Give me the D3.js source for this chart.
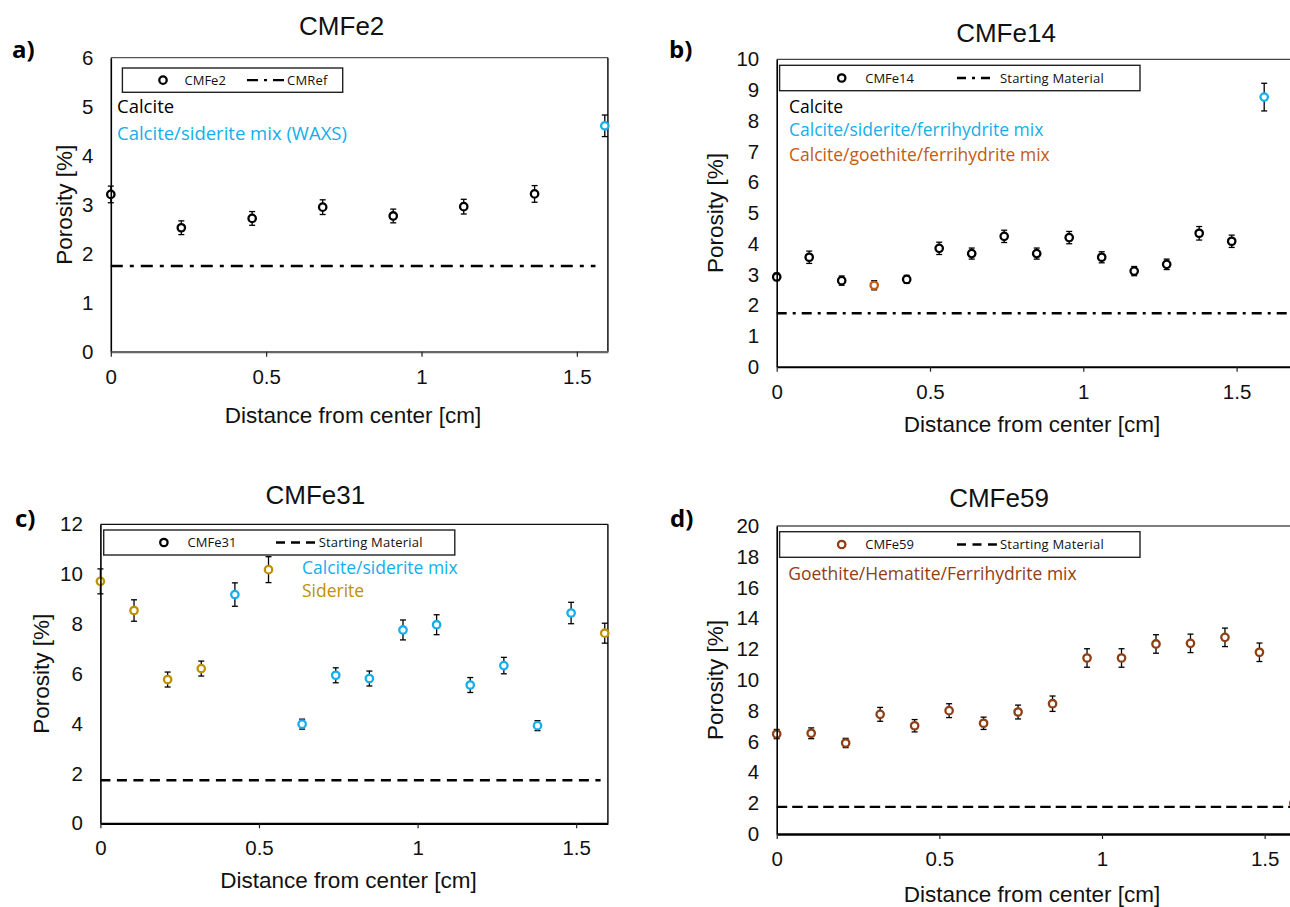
<!DOCTYPE html>
<html><head><meta charset="utf-8">
<script src="https://cdn.jsdelivr.net/npm/d3@7"></script>
<style>html,body{margin:0;padding:0;background:#fff;} svg{display:block;}</style>
</head><body>
<svg id="chart" width="1290" height="907"></svg>
<script>
// ================= DATA =================
const xTicks = [0, 0.5, 1, 1.5];
const xTickLabels = ["0", "0.5", "1", "1.5"];

// Panel a) CMFe2
const aTitle = "CMFe2";
const aYTicks = [0, 1, 2, 3, 4, 5, 6];
const aDist = [0, 0.227, 0.455, 0.682, 0.909, 1.136, 1.364, 1.59];
const aPoro = [3.21, 2.53, 2.72, 2.95, 2.77, 2.96, 3.22, 4.61];
const aErr  = [0.17, 0.14, 0.14, 0.15, 0.14, 0.15, 0.17, 0.22];
const aPhase = ["calcite","calcite","calcite","calcite","calcite","calcite","calcite","sidmix"];
const aRef = 1.75, aRefEnd = 1.56;
const aLegend = ["CMFe2", "CMRef"];
const aPhaseLabels = [["Calcite","calcite"],["Calcite/siderite mix (WAXS)","sidmix"]];

// Panel b) CMFe14
const bTitle = "CMFe14";
const bYTicks = [0,1,2,3,4,5,6,7,8,9,10];
const bDist = [0, 0.106, 0.212, 0.318, 0.424, 0.53, 0.636, 0.742, 0.848, 0.954, 1.06, 1.166, 1.272, 1.378, 1.484, 1.59];
const bPoro = [2.92, 3.56, 2.80, 2.65, 2.84, 3.85, 3.68, 4.24, 3.68, 4.20, 3.56, 3.11, 3.33, 4.34, 4.08, 8.77];
const bErr  = [0.12, 0.2, 0.15, 0.15, 0.13, 0.2, 0.18, 0.2, 0.18, 0.2, 0.18, 0.15, 0.17, 0.22, 0.2, 0.45];
const bPhase = ["calcite","calcite","calcite","goemix","calcite","calcite","calcite","calcite","calcite","calcite","calcite","calcite","calcite","calcite","calcite","sidmix"];
const bRef = 1.74, bRefEnd = 1.8;
const bLegend = ["CMFe14", "Starting Material"];
const bPhaseLabels = [["Calcite","calcite"],["Calcite/siderite/ferrihydrite mix","sidmix"],["Calcite/goethite/ferrihydrite mix","goemix"]];

// Panel c) CMFe31
const cTitle = "CMFe31";
const cYTicks = [0, 2, 4, 6, 8, 10, 12];
const cDist = [0, 0.106, 0.212, 0.318, 0.424, 0.53, 0.636, 0.742, 0.848, 0.954, 1.06, 1.166, 1.272, 1.378, 1.484, 1.59];
const cPoro = [9.71, 8.54, 5.77, 6.21, 9.18, 10.18, 3.98, 5.94, 5.81, 7.76, 7.97, 5.55, 6.33, 3.92, 8.44, 7.63];
const cErr  = [0.5, 0.43, 0.3, 0.3, 0.47, 0.52, 0.2, 0.3, 0.3, 0.4, 0.4, 0.3, 0.33, 0.2, 0.43, 0.4];
const cPhase = ["siderite","siderite","siderite","siderite","sidmix","siderite","sidmix","sidmix","sidmix","sidmix","sidmix","sidmix","sidmix","sidmix","sidmix","siderite"];
const cRef = 1.73, cRefEnd = 1.577;
const cLegend = ["CMFe31", "Starting Material"];
const cPhaseLabels = [["Calcite/siderite mix","sidmix"],["Siderite","siderite"]];

// Panel d) CMFe59
const dTitle = "CMFe59";
const dYTicks = [0, 2, 4, 6, 8, 10, 12, 14, 16, 18, 20];
const dDist = [0, 0.106, 0.212, 0.318, 0.424, 0.53, 0.636, 0.742, 0.848, 0.954, 1.06, 1.166, 1.272, 1.378, 1.484, 1.59];
const dPoro = [6.49, 6.54, 5.91, 7.77, 7.03, 8.01, 7.19, 7.92, 8.46, 11.43, 11.43, 12.34, 12.38, 12.77, 11.8, 2.0];
const dErr  = [0.3, 0.35, 0.3, 0.45, 0.4, 0.45, 0.4, 0.45, 0.5, 0.6, 0.6, 0.6, 0.6, 0.6, 0.6, 0.3];
const dPhase = dDist.map(() => "goehem");
const dRef = 1.76, dRefEnd = 1.8;
const dLegend = ["CMFe59", "Starting Material"];
const dPhaseLabels = [["Goethite/Hematite/Ferrihydrite mix","goehem"]];

const xLabel = "Distance from center [cm]";
const yLabel = "Porosity [%]";

// ================= STYLE =================
const phaseColor = {
  calcite: "#000000",
  sidmix: "#13AEEC",
  goemix: "#C55A11",
  siderite: "#BF9000",
  goehem: "#8E4014"
};
const ARIAL = "'Liberation Sans', Arial, sans-serif";
const CALIBRI = "'Open Sans', 'Noto Sans', sans-serif";

const svg = d3.select("#chart");

function drawPanel(p) {
  const x = d3.scaleLinear().domain(p.xDomain).range(p.xRange);
  const y = d3.scaleLinear().domain(p.yDomain).range(p.yRange);
  const g = svg.append("g");
  const yMax = p.yDomain[1];

  // Frame lines
  g.append("line").attr("x1", x(0)).attr("x2", x(p.xDomain[1])).attr("y1", y(yMax)).attr("y2", y(yMax))
    .attr("stroke", p.topColor).attr("stroke-width", 1.3);
  if (p.rightBorder) {
    g.append("line").attr("x1", x(p.xDomain[1])).attr("x2", x(p.xDomain[1])).attr("y1", y(yMax)).attr("y2", y(0))
      .attr("stroke", "#111").attr("stroke-width", 1.5);
  }

  // Reference line
  const refLine = d3.line().x(d => x(d[0])).y(d => y(d[1]));
  g.append("path").attr("d", refLine([[0, p.ref], [p.refEnd, p.ref]]))
    .attr("stroke", "#000").attr("stroke-width", 2.4).attr("fill", "none")
    .attr("stroke-dasharray", p.dash);

  // Error bars
  const eb = g.append("g");
  p.dist.forEach((d, i) => {
    const v = p.poro[i], e = p.err[i];
    eb.append("line").attr("x1", x(d)).attr("x2", x(d)).attr("y1", y(v - e)).attr("y2", y(v + e))
      .attr("stroke", "#000").attr("stroke-width", 1.3);
    [v - e, v + e].forEach(t => {
      eb.append("line").attr("x1", x(d) - 3).attr("x2", x(d) + 3).attr("y1", y(t)).attr("y2", y(t))
        .attr("stroke", "#000").attr("stroke-width", 1.3);
    });
  });

  // Markers
  g.append("g").selectAll("circle").data(p.dist).join("circle")
    .attr("cx", d => x(d)).attr("cy", (d, i) => y(p.poro[i])).attr("r", 3.7)
    .attr("fill", "#fff").attr("stroke", (d, i) => phaseColor[p.phase[i]]).attr("stroke-width", 2.3);

  // Left axis
  const ya = d3.axisLeft(y).tickValues(p.yTicks).tickFormat(d3.format("d")).tickSize(0).tickPadding(17.5);
  const yg = g.append("g").attr("transform", `translate(${x(0)},0)`).call(ya);
  yg.select(".domain").attr("stroke", "#000").attr("stroke-width", 1.6);
  yg.selectAll("text").attr("font-family", ARIAL).attr("font-size", 20.5).attr("fill", "#111");

  // Bottom axis
  const xa = d3.axisBottom(x).tickValues(xTicks).tickFormat((d, i) => xTickLabels[i]).tickSizeInner(5).tickSizeOuter(0).tickPadding(12.5);
  const xg = g.append("g").attr("transform", `translate(0,${y(0)})`).call(xa);
  xg.select(".domain").attr("stroke", p.bottomColor).attr("stroke-width", p.bottomWidth);
  xg.selectAll(".tick line").attr("stroke", "#222").attr("stroke-width", 1.2);
  xg.selectAll("text").attr("font-family", ARIAL).attr("font-size", 20.5).attr("fill", "#111");

  // Titles
  g.append("text").attr("x", p.titleX).attr("y", p.titleY).attr("text-anchor", "middle")
    .attr("font-family", ARIAL).attr("font-size", 26).attr("fill", "#111").text(p.title);
  g.append("text").attr("x", p.tagX).attr("y", p.tagY)
    .attr("font-family", CALIBRI).attr("font-weight", 700).attr("font-size", 24).attr("fill", "#000").text(p.tag);
  g.append("text").attr("x", p.xlabX).attr("y", p.xlabY).attr("text-anchor", "middle")
    .attr("font-family", ARIAL).attr("font-size", 22.5).attr("fill", "#111").text(xLabel);
  g.append("text").attr("transform", `translate(${p.ylabX},${(p.yRange[0] + p.yRange[1]) / 2}) rotate(-90)`)
    .attr("text-anchor", "middle")
    .attr("font-family", ARIAL).attr("font-size", 22.5).attr("fill", "#111").text(yLabel);

  // Legend
  const L = p.legend;
  const lg = g.append("g");
  lg.append("rect").attr("x", L.x0).attr("y", L.y0).attr("width", L.x1 - L.x0).attr("height", L.y1 - L.y0)
    .attr("fill", "#fff").attr("stroke", "#222").attr("stroke-width", 1.4);
  const cy = (L.y0 + L.y1) / 2;
  lg.append("circle").attr("cx", L.mx).attr("cy", cy).attr("r", 3.7).attr("fill", "#fff")
    .attr("stroke", L.mcolor).attr("stroke-width", 2.3);
  lg.append("text").attr("x", L.t1).attr("y", cy + 4.6).attr("font-family", CALIBRI).attr("font-size", 13)
    .attr("fill", "#111").text(p.legendText[0]);
  lg.append("line").attr("x1", L.l0).attr("x2", L.l1).attr("y1", cy).attr("y2", cy)
    .attr("stroke", "#000").attr("stroke-width", 2.4).attr("stroke-dasharray", L.dash);
  lg.append("text").attr("x", L.t2).attr("y", cy + 4.6).attr("font-family", CALIBRI).attr("font-size", 13)
    .attr("fill", "#111").attr("letter-spacing", 0.2).text(p.legendText[1]);

  // Phase labels
  p.phaseLabels.forEach((pl, i) => {
    g.append("text").attr("x", p.phX).attr("y", p.phY[i]).attr("font-family", CALIBRI)
      .attr("font-size", p.phSize).attr("fill", phaseColor[pl[1]]).text(pl[0]);
  });
}

// Panel a
drawPanel({
  title: aTitle, tag: "a)", yTicks: aYTicks, dist: aDist, poro: aPoro, err: aErr, phase: aPhase,
  ref: aRef, refEnd: aRefEnd, dash: "12,7,4,7",
  xDomain: [0, 1.6], xRange: [110.8, 607.9], yDomain: [0, 6], yRange: [351.7, 57.7],
  topColor: "#555", rightBorder: true, bottomColor: "#666", bottomWidth: 2.2,
  titleX: 341.7, titleY: 35, tagX: 12, tagY: 58, xlabX: 353, xlabY: 423, ylabX: 72,
  legend: {x0: 122.4, x1: 342.7, y0: 68, y1: 92.3, mx: 163, mcolor: "#000", t1: 184.5, l0: 247, l1: 284, t2: 287, dash: "11,6,3,6"},
  legendText: aLegend, phaseLabels: aPhaseLabels, phX: 117, phY: [113.3, 140], phSize: 18.5
});
// Panel b
drawPanel({
  title: bTitle, tag: "b)", yTicks: bYTicks, dist: bDist, poro: bPoro, err: bErr, phase: bPhase,
  ref: bRef, refEnd: bRefEnd, dash: "10,6,3,6",
  xDomain: [0, 1.8], xRange: [776.7, 776.7 + 1.8 * 306.6], yDomain: [0, 10], yRange: [366.7, 59.3],
  topColor: "#444", rightBorder: false, bottomColor: "#000", bottomWidth: 2,
  titleX: 1006, titleY: 41.7, tagX: 669, tagY: 58, xlabX: 1032, xlabY: 432, ylabX: 722.7,
  legend: {x0: 779.6, x1: 1140, y0: 65.3, y1: 90.7, mx: 841.7, mcolor: "#000", t1: 865.2, l0: 957, l1: 990.7, t2: 1000, dash: "9,6,3,6"},
  legendText: bLegend, phaseLabels: bPhaseLabels, phX: 789, phY: [112.7, 136, 161.3], phSize: 17.5
});
// Panel c
drawPanel({
  title: cTitle, tag: "c)", yTicks: cYTicks, dist: cDist, poro: cPoro, err: cErr, phase: cPhase,
  ref: cRef, refEnd: cRefEnd, dash: "10,6.5",
  xDomain: [0, 1.6], xRange: [100.4, 607.9], yDomain: [0, 12], yRange: [823.3, 524.3],
  topColor: "#111", rightBorder: true, bottomColor: "#000", bottomWidth: 2.2,
  titleX: 315.4, titleY: 504.3, tagX: 15, tagY: 526.7, xlabX: 348.5, xlabY: 888, ylabX: 49,
  legend: {x0: 103.7, x1: 454.8, y0: 530, y1: 555, mx: 163.9, mcolor: "#000", t1: 187.6, l0: 276, l1: 315.4, t2: 318.7, dash: "9,6"},
  legendText: cLegend, phaseLabels: cPhaseLabels, phX: 302, phY: [574, 596.7], phSize: 17.5
});
// Panel d
drawPanel({
  title: dTitle, tag: "d)", yTicks: dYTicks, dist: dDist, poro: dPoro, err: dErr, phase: dPhase,
  ref: dRef, refEnd: dRefEnd, dash: "10.5,5",
  xDomain: [0, 1.8], xRange: [776.7, 776.7 + 1.8 * 325.3], yDomain: [0, 20], yRange: [834, 526],
  topColor: "#555", rightBorder: false, bottomColor: "#000", bottomWidth: 2.6,
  titleX: 999, titleY: 506.7, tagX: 670, tagY: 527.3, xlabX: 1032, xlabY: 901.7, ylabX: 722.7,
  legend: {x0: 779.6, x1: 1140, y0: 531.7, y1: 557.3, mx: 841.7, mcolor: phaseColor.goehem, t1: 865.2, l0: 957, l1: 996.9, t2: 1000, dash: "9,6.5"},
  legendText: dLegend, phaseLabels: dPhaseLabels, phX: 788.2, phY: [580], phSize: 17.5
});
</script>
</body></html>
